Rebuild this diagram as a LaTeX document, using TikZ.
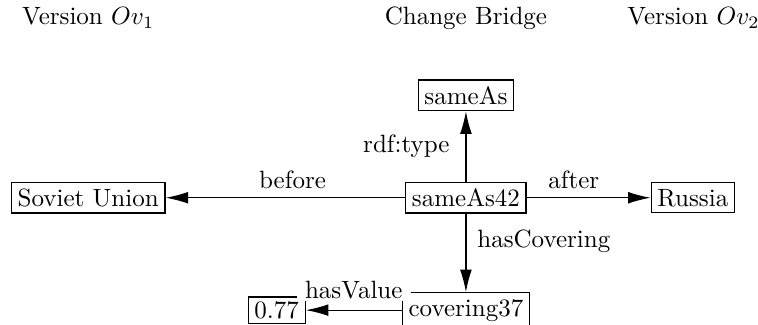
\documentclass[tikz,border=0pt]{standalone}
\usetikzlibrary{arrows.meta}
\usepackage{amsmath}

\tikzset{
	res/.style={draw, inner sep=2.5pt},
	val/.style={draw, inner xsep=2.5pt, inner ysep=1.8pt},
	rel/.style={-{Latex[length=9pt,width=4.7pt]}},
}

\begin{document}
\begin{tikzpicture}[line width=0.5pt]
	\useasboundingbox (0,0) rectangle (10.656,-4.569);
	\node (v1) at (1.24,-0.25) {Version $Ov_1$};
	\node (bridge) at (6.55,-0.25) {Change Bridge};
	\node (v2) at (9.75,-0.25) {Version $Ov_2$};
	\node [res] (sameas) at (6.55,-1.34) {sameAs};
	\node [res] (sameas42) at (6.55,-2.78) {sameAs42};
	\node [res] (soviet) at (1.24,-2.78) {Soviet Union};
	\node [res] (russia) at (9.74,-2.78) {Russia};
	\node [res] (covering37) at (6.55,-4.36) {covering37};
	\node [val] (value) at (3.89,-4.36) {0.77};
	\draw [rel] (sameas42) --node[left, xshift=-3pt]{rdf:type} (sameas);
	\draw [rel] (sameas42) --node[above, pos=0.47]{before} (soviet);
	\draw [rel] (sameas42) --node[above, pos=0.38]{after} (russia);
	\draw [rel] (sameas42) --node[right, pos=0.35, xshift=1pt]{hasCovering} (covering37);
	\draw [rel] (covering37) --node[above, fill=white, inner ysep=0.5pt, yshift=3.5pt]{hasValue} (value);
\end{tikzpicture}
\end{document}
